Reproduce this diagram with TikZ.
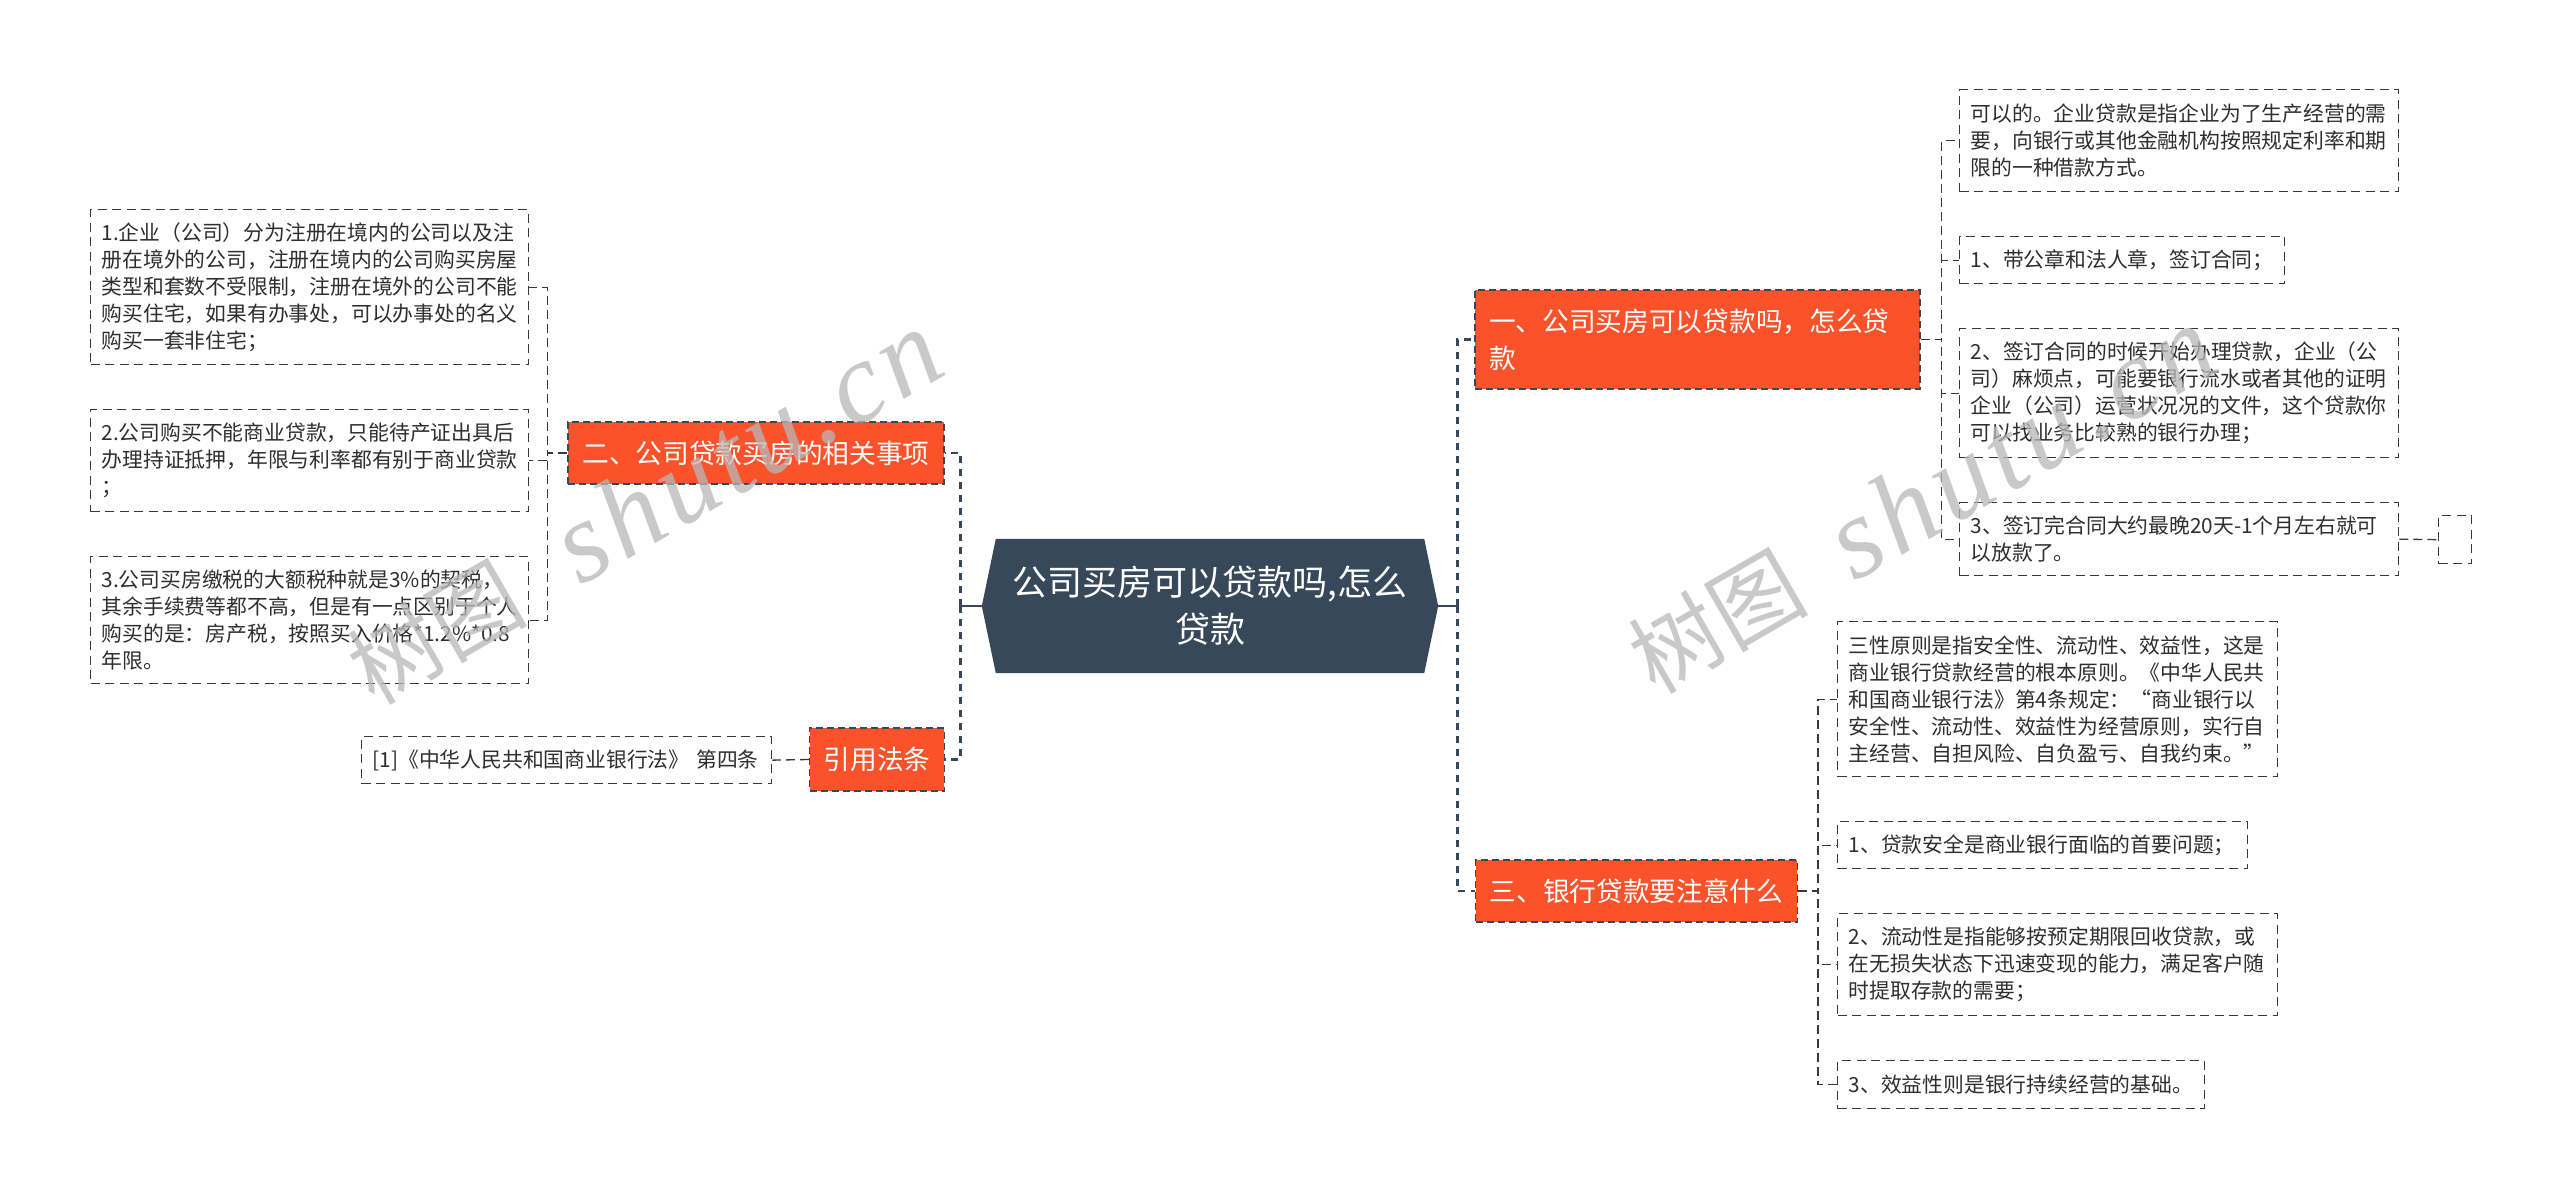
\documentclass[tikz,border=0pt]{standalone}
\usepackage{fontspec}
\setmainfont{Noto Sans CJK SC}
\newfontfamily\wmcjk{Noto Sans CJK SC}
\newfontfamily\wmlatin[LetterSpace=5]{Liberation Serif}
\definecolor{orng}{HTML}{FA532C}
\definecolor{slate}{HTML}{364859}
\definecolor{bordc}{HTML}{383838}
\definecolor{txtc}{HTML}{2E2E2E}
\definecolor{wmc}{HTML}{B8B8B8}
\pgfdeclarelayer{paper}
\pgfdeclarelayer{bg}
\pgfsetlayers{paper,bg,main}
\tikzset{
  leaf/.style={draw=bordc, line width=1.3pt, dash pattern=on 9pt off 5.5pt, fill=white,
    anchor=north west, inner xsep=10pt, inner ysep=0pt, align=left, text=txtc,
    font=\fontsize{20.8}{27}\selectfont},
  topic/.style={draw=slate, line width=1.3pt, dash pattern=on 7pt off 4pt, fill=orng,
    text=white, font=\fontsize{26.7}{37}\selectfont, inner xsep=14pt, inner ysep=0pt},
  trunkline/.style={draw=slate, line width=2.8pt, dash pattern=on 7pt off 6pt},
  trunkstub/.style={draw=slate, line width=2.8pt},
  twig/.style={draw=bordc, line width=1.3pt, dash pattern=on 9pt off 5pt},
  wm/.style={text=wmc, opacity=0.75, rotate=30, inner sep=0pt},
}
\begin{document}
\begin{tikzpicture}[x=1pt,y=-1pt]
\useasboundingbox (0,0) rectangle (2560,1197);
\begin{pgfonlayer}{paper}
  \fill[white] (0,0) rectangle (2560,1197);
\end{pgfonlayer}

% central node
\node[minimum width=456pt, minimum height=134pt, inner sep=0pt, text=white, align=center,
  font=\fontsize{35}{47}\selectfont] (c) at (1210,606) {公司买房可以贷款吗,怎么\\贷款};

% level-1 topics
\node[topic, minimum width=445pt, minimum height=99pt, text width=417pt, align=left] (n1) at (1697.5,339.5) {一、公司买房可以贷款吗，怎么贷\\款};
\node[topic, minimum width=376pt, minimum height=62pt] (n2) at (756,453) {二、公司贷款买房的相关事项};
\node[topic, minimum width=321pt, minimum height=62pt] (n3) at (1636.5,891) {三、银行贷款要注意什么};
\node[topic, minimum width=134pt, minimum height=63pt] (n4) at (877,759.5) {引用法条};

% left leaves
\node[leaf, minimum width=438pt, minimum height=155pt, text width=416pt] (b1) at (90,209) {1.企业（公司）分为注册在境内的公司以及注\\册在境外的公司，注册在境内的公司购买房屋\\类型和套数不受限制，注册在境外的公司不能\\购买住宅，如果有办事处，可以办事处的名义\\购买一套非住宅；};
\node[leaf, minimum width=438pt, minimum height=102pt, text width=416pt] (b2) at (90,409) {2.公司购买不能商业贷款，只能待产证出具后\\办理持证抵押，年限与利率都有别于商业贷款\\；};
\node[leaf, minimum width=438pt, minimum height=127pt, text width=416pt] (b3) at (90,556) {3.公司买房缴税的大额税种就是3\%的契税，\\其余手续费等都不高，但是有一点区别于个人\\购买的是：房产税，按照买入价格*1.2\%*0.8\\*年限。};
\node[leaf, minimum width=410pt, minimum height=47pt, text width=388pt] (cite) at (361,736) {[1]《中华人民共和国商业银行法》~第四条};

% right leaves of n1
\node[leaf, minimum width=439pt, minimum height=102pt, text width=417pt] (ba) at (1959,89) {可以的。企业贷款是指企业为了生产经营的需\\要，向银行或其他金融机构按照规定利率和期\\限的一种借款方式。};
\node[leaf, minimum width=325pt, minimum height=47pt, text width=303pt] (bb) at (1959,236) {1、带公章和法人章，签订合同；};
\node[leaf, minimum width=439pt, minimum height=129pt, text width=417pt] (bc) at (1959,328) {2、签订合同的时候开始办理贷款，企业（公\\司）麻烦点，可能要银行流水或者其他的证明\\企业（公司）运营状况况的文件，这个贷款你\\可以找业务比较熟的银行办理；};
\node[leaf, minimum width=439pt, minimum height=73pt, text width=417pt] (bd) at (1959,502) {3、签订完合同大约最晚20天-1个月左右就可\\以放款了。};
\node[leaf, minimum width=33pt, minimum height=48pt, inner xsep=0pt] (be) at (2438,515) {};

% right leaves of n3
\node[leaf, minimum width=440pt, minimum height=155pt, text width=418pt] (e1) at (1837,621) {三性原则是指安全性、流动性、效益性，这是\\商业银行贷款经营的根本原则。《中华人民共\\和国商业银行法》第4条规定：“商业银行以\\安全性、流动性、效益性为经营原则，实行自\\主经营、自担风险、自负盈亏、自我约束。”};
\node[leaf, minimum width=410pt, minimum height=47pt, text width=388pt] (e2) at (1837,821) {1、贷款安全是商业银行面临的首要问题；};
\node[leaf, minimum width=440pt, minimum height=102pt, text width=418pt] (e3) at (1837,913) {2、流动性是指能够按预定期限回收贷款，或\\在无损失状态下迅速变现的能力，满足客户随\\时提取存款的需要；};
\node[leaf, minimum width=367pt, minimum height=48pt, text width=345pt] (e4) at (1837,1060) {3、效益性则是银行持续经营的基础。};

\begin{pgfonlayer}{bg}
  % hexagon of central node
  \fill[slate] ([xshift=14pt]c.north west) -- ([xshift=-14pt]c.north east) -- (c.east)
    -- ([xshift=-14pt]c.south east) -- ([xshift=14pt]c.south west) -- (c.west) -- cycle;
  % trunk
  \draw[trunkstub] (c.west) -- ++(-21,0) coordinate (tl);
  \draw[trunkline] (tl) |- (n2.east);
  \draw[trunkline] (tl) |- (n4.east);
  \draw[trunkstub] (c.east) -- ++(19,0) coordinate (tr);
  \draw[trunkline] (tr) |- (n1.west);
  \draw[trunkline] (tr) |- (n3.west);
  % twigs
  \draw[twig] (n2.west) -- ++(-20,0) |- (b1.east);
  \draw[twig] (n2.west) -- ++(-20,0) |- (b2.east);
  \draw[twig] (n2.west) -- ++(-20,0) |- (b3.east);
  \draw[twig] (n4.west) -- (cite.east);
  \draw[twig] (n1.east) -- ++(21,0) |- (ba.west);
  \draw[twig] (n1.east) -- ++(21,0) |- (bb.west);
  \draw[twig] (n1.east) -- ++(21,0) |- (bc.west);
  \draw[twig] (n1.east) -- ++(21,0) |- (bd.west);
  \draw[twig] (bd.east) -- (be.west);
  \draw[twig] (n3.east) -- ++(20,0) |- (e1.west);
  \draw[twig] (n3.east) -- ++(20,0) |- (e2.west);
  \draw[twig] (n3.east) -- ++(20,0) |- (e3.west);
  \draw[twig] (n3.east) -- ++(20,0) |- (e4.west);
\end{pgfonlayer}

% watermarks
\node[wm, font=\wmcjk\fontsize{90}{90}\selectfont] (wa1) at (435,632) {树图};
\node[wm, font=\wmlatin\itshape\fontsize{115}{115}\selectfont] (wb1) at (746,446) {shutu.cn};
\node[wm, font=\wmcjk\fontsize{90}{90}\selectfont] (wa2) at (1716,621) {树图};
\node[wm, font=\wmlatin\itshape\fontsize{115}{115}\selectfont] (wb2) at (2020,442) {shutu.cn};
\end{tikzpicture}
\end{document}
